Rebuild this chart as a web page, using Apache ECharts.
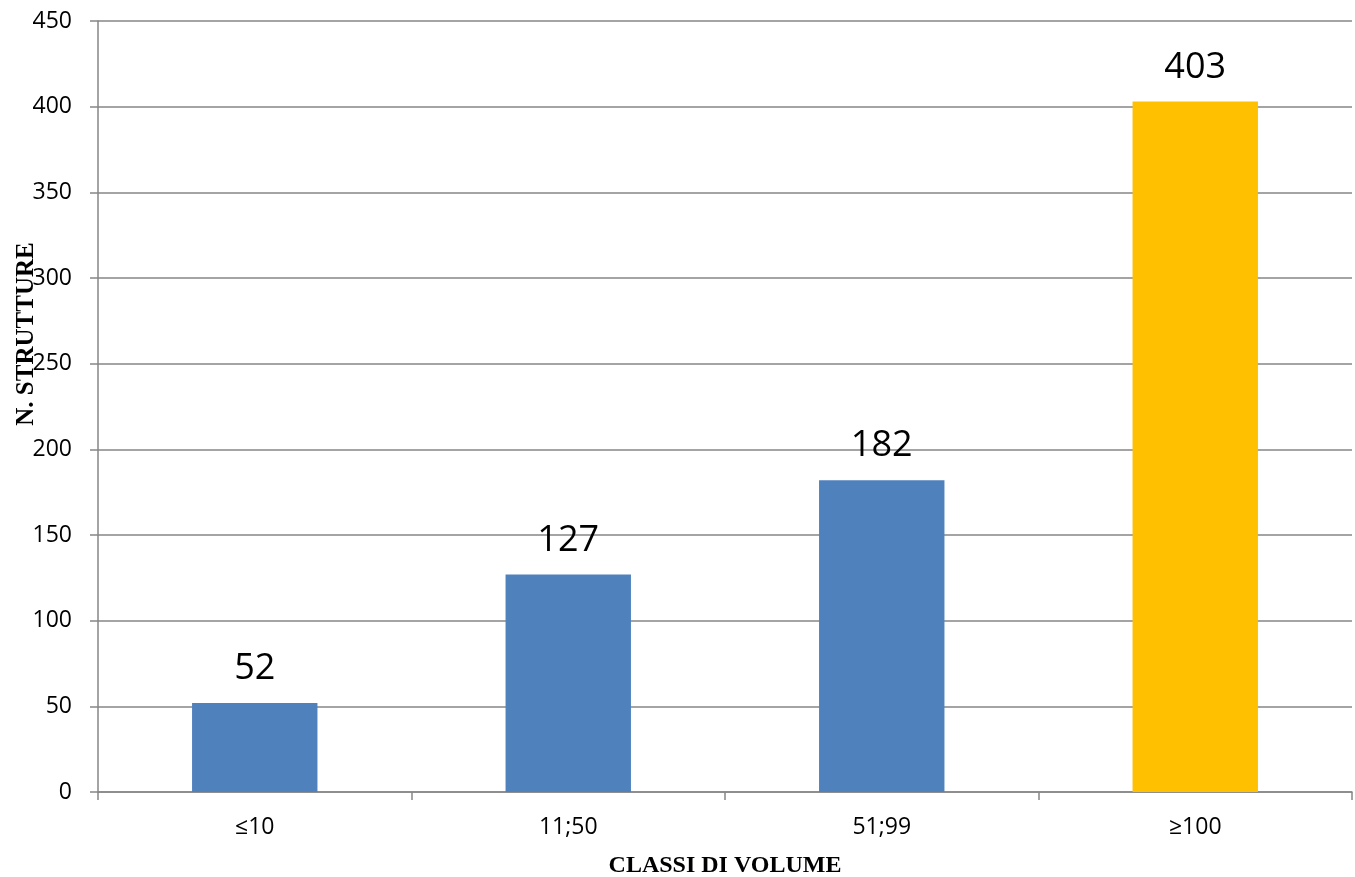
<!DOCTYPE html>
<html>
<head>
<meta charset="utf-8">
<script src="https://cdn.jsdelivr.net/npm/echarts@6/dist/echarts.min.js"></script>
<style>
  html, body { margin: 0; padding: 0; background: #ffffff; }
  #chart { width: 1355px; height: 877px; }
</style>
</head>
<body>
<div id="chart"></div>
<script>
// Classes of volume and number of structures in each
const categories = ['≤10', '11;50', '51;99', '≥100'];
const values = [52, 127, 182, 403];
const barColors = ['#4F81BD', '#4F81BD', '#4F81BD', '#FFC000'];

const chart = echarts.init(document.getElementById('chart'));

const gridColor = '#868686';
const sansFont = '"Open Sans", "Liberation Sans", sans-serif';
const serifFont = '"Liberation Serif", "DejaVu Serif", serif';

chart.setOption({
  animation: false,
  grid: { left: 98, right: 3, top: 21, bottom: 85, containLabel: false, outerBoundsMode: 'none' },
  xAxis: {
    type: 'category',
    data: categories,
    name: 'CLASSI DI VOLUME',
    nameLocation: 'middle',
    nameGap: 62,
    nameTextStyle: { fontFamily: serifFont, fontWeight: 'bold', fontSize: 24, color: '#000' },
    axisLine: { lineStyle: { color: gridColor, width: 1.5 } },
    axisTick: { show: true, alignWithLabel: false, length: 8, lineStyle: { color: gridColor, width: 1.5 } },
    axisLabel: { fontFamily: sansFont, fontSize: 23, color: '#000', margin: 24 }
  },
  yAxis: {
    type: 'value',
    min: 0,
    max: 450,
    interval: 50,
    axisLine: { show: true, lineStyle: { color: gridColor, width: 1.5 } },
    axisTick: { show: true, length: 8, lineStyle: { color: gridColor, width: 1.5 } },
    axisLabel: { fontFamily: sansFont, fontSize: 23, color: '#000', margin: 26 },
    splitLine: { show: true, lineStyle: { color: gridColor, width: 1.5 } }
  },
  graphic: [{
    type: 'text',
    x: 27,
    y: 334,
    rotation: Math.PI / 2,
    z: 10,
    style: {
      text: 'N. STRUTTURE',
      font: 'bold 25px ' + serifFont,
      fill: '#000',
      align: 'center',
      verticalAlign: 'middle'
    }
  }],
  series: [{
    type: 'bar',
    data: values.map((v, i) => ({ value: v, itemStyle: { color: barColors[i] } })),
    barWidth: '40%',
    label: {
      show: true,
      position: 'top',
      distance: 16,
      fontFamily: sansFont,
      fontSize: 36,
      color: '#000'
    }
  }]
});
</script>
</body>
</html>
